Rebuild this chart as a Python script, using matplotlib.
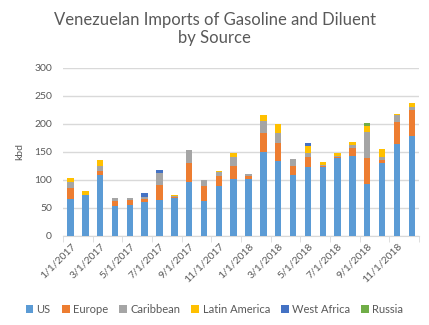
import numpy as np
import matplotlib.pyplot as plt

plt.rcParams['font.family'] = ['Lato', 'DejaVu Sans']

# monthly imports, kbd (Jan 2017 .. Dec 2018)
months = [f"{m}/1/{y}" for y in (2017, 2018) for m in range(1, 13)]
us = [66, 73, 109, 54, 55, 61, 65, 68, 97, 62.5, 90, 101,
      101, 150.5, 134, 108, 123, 123, 140, 143.5, 93.5, 130, 165, 179]
europe = [20, 0, 7, 8, 9, 5, 26, 2, 33, 27, 17, 24,
          6, 33, 32, 17, 18, 2.5, 1, 13.5, 46.5, 6, 39, 46.5]
caribbean = [10, 0, 9, 5, 4, 4, 22, 1.5, 23, 10, 8, 16,
             4, 21, 18, 12.5, 7, 1, 2, 5.5, 46, 5, 12, 5.5]
latin_america = [7, 7, 11, 0, 0, 0, 0, 2, 0, 0, 1, 7,
                 0, 11, 16, 0, 13, 5, 5, 5.5, 10, 14, 2.5, 7]
west_africa = [0, 0, 0, 0, 0, 7, 5, 0, 0, 0, 0, 0,
               0, 0, 0, 0, 5, 0, 0, 0, 0, 0, 0, 0]
russia = [0, 0, 0, 0, 0, 0, 0, 0, 0, 0, 0, 0,
          0, 0, 0, 0, 0, 0, 0, 0, 5, 0, 0, 0]

series = [("US", us, "#5B9BD5"),
          ("Europe", europe, "#ED7D31"),
          ("Caribbean", caribbean, "#A5A5A5"),
          ("Latin America", latin_america, "#FFC000"),
          ("West Africa", west_africa, "#4472C4"),
          ("Russia", russia, "#70AD47")]

fig = plt.figure(figsize=(4.29, 3.25), dpi=100)
ax = fig.add_axes([0.147, 0.274, 0.83, 0.517])

x = np.arange(len(months))
bottom = np.zeros(len(months))
for name, vals, col in series:
    vals = np.array(vals, dtype=float)
    ax.bar(x, vals, 0.43, bottom=bottom, color=col, label=name, zorder=3)
    bottom += vals

ax.set_xlim(-0.5, len(months) - 0.5)
ax.set_ylim(0, 300)
ax.set_yticks(range(0, 301, 50))
ax.yaxis.grid(True, color='#D9D9D9', linewidth=1, zorder=0)
ax.tick_params(axis='y', length=0, pad=8, labelsize=7.5, labelcolor='#595959')

ax.set_xticks(x[::2])
ax.set_xticklabels(months[::2], rotation=45, ha='right', rotation_mode='anchor')
ax.set_xticks(np.arange(-0.5, len(months), 2), minor=True)
ax.tick_params(axis='x', which='major', length=0, pad=4, labelsize=7.5, labelcolor='#595959')
ax.tick_params(axis='x', which='minor', length=4, color='#D9D9D9')

for s in ('top', 'right', 'left'):
    ax.spines[s].set_visible(False)
ax.spines['bottom'].set_color('#D9D9D9')

ax.set_ylabel('kbd', fontsize=7.5, color='#595959', labelpad=7)

fig.text(0.5, 0.91, 'Venezuelan Imports of Gasoline and Diluent\nby Source',
         ha='center', va='center', fontsize=12, color='#595959', linespacing=1.15)

fig.legend(loc='center', bbox_to_anchor=(0.5, 0.047), ncol=6, frameon=False,
           fontsize=8, handlelength=0.7, handleheight=0.7, handletextpad=0.3,
           columnspacing=1.0, labelcolor='#595959')

fig.savefig('out.png', dpi=100)
